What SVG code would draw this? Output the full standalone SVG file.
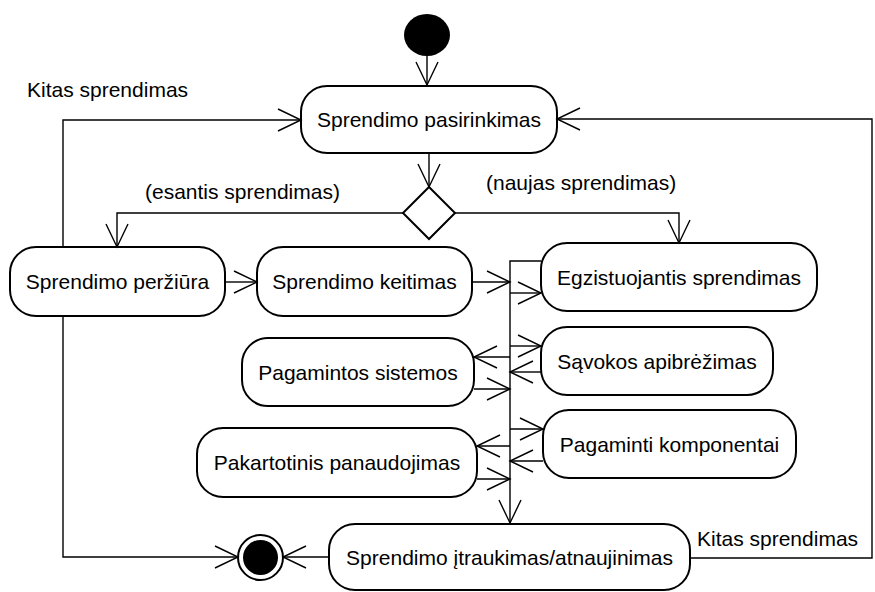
<svg xmlns="http://www.w3.org/2000/svg" width="875" height="592" viewBox="0 0 875 592">
  <style>
    .act rect { fill: #fff; stroke: #000; stroke-width: 2; }
    .lbl { font-family: "Liberation Sans", Arial, sans-serif; font-size: 21px; fill: #000; }
    .act text { text-anchor: middle; }
    .conn path { fill: none; stroke: #000; stroke-width: 1.4; marker-end: url(#arr); }
    .conn path.plain { marker-end: none; }
  </style>
  <defs>
    <marker id="arr" markerUnits="userSpaceOnUse" markerWidth="30" markerHeight="30" viewBox="-26 -15 30 30" refX="0" refY="0" orient="auto" overflow="visible">
      <path d="M-23,-11 L0,0 L-23,11" fill="none" stroke="#000" stroke-width="1.4"/>
    </marker>
  </defs>
  <rect width="875" height="592" fill="#fff"/>

  <!-- initial and final nodes -->
  <g id="start">
    <ellipse cx="427" cy="35" rx="23" ry="21" fill="#000"/>
  </g>
  <g id="end">
    <circle cx="260.5" cy="557.5" r="22.5" fill="#fff" stroke="#000" stroke-width="2"/>
    <circle cx="260.5" cy="557.5" r="17.5" fill="#000"/>
  </g>

  <!-- decision -->
  <g id="decision">
    <polygon points="429,187 455,213 429,239 403,213" fill="#fff" stroke="#000" stroke-width="2"/>
  </g>

  <!-- activities -->
  <g id="pasirinkimas" class="act">
    <rect x="301" y="86" width="256" height="67" rx="26"/>
    <text class="lbl" x="429" y="127">Sprendimo pasirinkimas</text>
  </g>
  <g id="perziura" class="act">
    <rect x="10" y="247" width="215" height="69" rx="26"/>
    <text class="lbl" x="117.5" y="289">Sprendimo peržiūra</text>
  </g>
  <g id="keitimas" class="act">
    <rect x="257" y="247" width="215" height="69" rx="26"/>
    <text class="lbl" x="364.5" y="289">Sprendimo keitimas</text>
  </g>
  <g id="egzistuojantis" class="act">
    <rect x="541" y="243" width="276" height="68" rx="26"/>
    <text class="lbl" x="679" y="284.5">Egzistuojantis sprendimas</text>
  </g>
  <g id="savokos" class="act">
    <rect x="541" y="327" width="232" height="68" rx="26"/>
    <text class="lbl" x="657" y="368.5">Sąvokos apibrėžimas</text>
  </g>
  <g id="pagamintos" class="act">
    <rect x="242" y="338" width="232" height="68" rx="26"/>
    <text class="lbl" x="358" y="379.5">Pagamintos sistemos</text>
  </g>
  <g id="pakartotinis" class="act">
    <rect x="197" y="428" width="280" height="69" rx="26"/>
    <text class="lbl" x="337" y="470">Pakartotinis panaudojimas</text>
  </g>
  <g id="komponentai" class="act">
    <rect x="543" y="410" width="253" height="68" rx="26"/>
    <text class="lbl" x="669.5" y="451.5">Pagaminti komponentai</text>
  </g>
  <g id="itraukimas" class="act">
    <rect x="329" y="524" width="361" height="66" rx="26"/>
    <text class="lbl" x="509.5" y="565">Sprendimo įtraukimas/atnaujinimas</text>
  </g>

  <!-- flows -->
  <g id="connectors" class="conn">
    <path d="M427,56 V85"/>
    <path d="M429,153 V187"/>
    <path d="M403,213 H117 V247"/>
    <path d="M455,213 H679 V243"/>
    <path d="M63,247 V120 H301"/>
    <path d="M225,282 H257"/>
    <path d="M472,282 H510"/>
    <path d="M541,261 H510 V523"/>
    <path d="M510,293 H541"/>
    <path d="M510,346 H541"/>
    <path d="M510,357 H474"/>
    <path d="M541,372 H510"/>
    <path d="M474,389 H510"/>
    <path d="M510,429 H543"/>
    <path d="M510,446 H477"/>
    <path d="M543,461 H510"/>
    <path d="M477,479 H510"/>
    <path d="M63,316 V557 H238"/>
    <path d="M329,557 H283"/>
    <path d="M690,558 H872 V119 H557"/>
  </g>

  <!-- guard and flow labels -->
  <g id="labels">
    <text class="lbl" x="27" y="97">Kitas sprendimas</text>
    <text class="lbl" x="145" y="199">(esantis sprendimas)</text>
    <text class="lbl" x="486" y="190">(naujas sprendimas)</text>
    <text class="lbl" x="697" y="546">Kitas sprendimas</text>
  </g>
</svg>
